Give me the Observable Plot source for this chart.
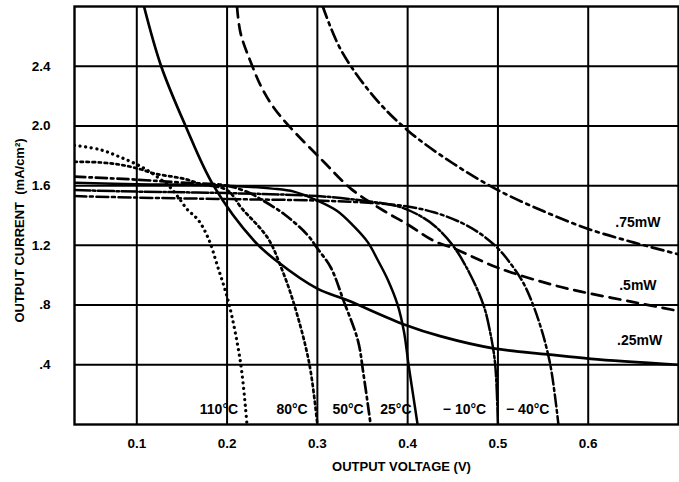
<!DOCTYPE html>
<html>
<head>
<meta charset="utf-8">
<script src="https://cdn.jsdelivr.net/npm/d3@7"></script>
<script src="https://cdn.jsdelivr.net/npm/@observablehq/plot@0.6"></script>
<style>
  html, body { margin: 0; padding: 0; background: #fff; }
  #chart svg { display: block; }
</style>
</head>
<body>
<div id="chart"></div>
<script>
// ---- Data (output voltage V, output current mA/cm²) ----
const xTicks = [0.1, 0.2, 0.3, 0.4, 0.5, 0.6];
const xTickLabels = ["0.1", "0.2", "0.3", "0.4", "0.5", "0.6"];
const yTicks = [0.4, 0.8, 1.2, 1.6, 2.0, 2.4];
const yTickLabels = [".4", ".8", "1.2", "1.6", "2.0", "2.4"];

// Temperature I–V curves
const v110 = [0.031, 0.06, 0.082, 0.104, 0.12, 0.135, 0.145, 0.156, 0.168, 0.179, 0.19, 0.202, 0.215, 0.222];
const i110 = [1.87, 1.84, 1.79, 1.73, 1.67, 1.60, 1.53, 1.44, 1.37, 1.25, 1.05, 0.81, 0.41, 0.0];

const v80 = [0.031, 0.06, 0.082, 0.104, 0.12, 0.14, 0.156, 0.171, 0.2, 0.216, 0.245, 0.26, 0.274, 0.291, 0.30];
const i80 = [1.76, 1.755, 1.74, 1.71, 1.68, 1.66, 1.64, 1.61, 1.57, 1.45, 1.25, 1.05, 0.81, 0.41, 0.0];

const v50 = [0.031, 0.1, 0.15, 0.2, 0.225, 0.237, 0.263, 0.289, 0.30, 0.315, 0.329, 0.345, 0.351, 0.359];
const i50 = [1.66, 1.64, 1.62, 1.60, 1.55, 1.51, 1.41, 1.27, 1.18, 1.05, 0.83, 0.56, 0.34, 0.0];

const v25 = [0.031, 0.1, 0.2, 0.25, 0.274, 0.30, 0.322, 0.34, 0.356, 0.367, 0.378, 0.389, 0.396, 0.401, 0.406, 0.411];
const i25 = [1.62, 1.61, 1.60, 1.58, 1.56, 1.50, 1.43, 1.33, 1.22, 1.10, 0.97, 0.80, 0.62, 0.40, 0.20, 0.0];

const vm10 = [0.031, 0.1, 0.2, 0.3, 0.35, 0.39, 0.41, 0.43, 0.45, 0.468, 0.484, 0.492, 0.497, 0.50];
const im10 = [1.57, 1.56, 1.55, 1.53, 1.50, 1.46, 1.41, 1.33, 1.20, 1.02, 0.80, 0.60, 0.40, 0.0];

const vm40 = [0.031, 0.1, 0.2, 0.3, 0.37, 0.40, 0.43, 0.46, 0.48, 0.50, 0.515, 0.528, 0.539, 0.55, 0.558, 0.563, 0.567];
const im40 = [1.53, 1.52, 1.51, 1.50, 1.48, 1.46, 1.42, 1.35, 1.28, 1.18, 1.07, 0.95, 0.80, 0.60, 0.40, 0.20, 0.0];

// Constant-power curves
const vP25 = [0.108, 0.127, 0.154, 0.185, 0.23, 0.256, 0.30, 0.334, 0.396, 0.437, 0.495, 0.555, 0.603, 0.70];
const iP25 = [2.80, 2.40, 2.00, 1.60, 1.23, 1.09, 0.91, 0.83, 0.67, 0.59, 0.51, 0.47, 0.44, 0.40];

const vP50 = [0.211, 0.215, 0.228, 0.238, 0.252, 0.27, 0.307, 0.337, 0.374, 0.40, 0.429, 0.451, 0.50, 0.558, 0.592, 0.65, 0.70];
const iP50 = [2.80, 2.62, 2.40, 2.26, 2.12, 1.99, 1.76, 1.58, 1.43, 1.34, 1.23, 1.18, 1.05, 0.94, 0.89, 0.82, 0.76];

const vP75 = [0.306, 0.326, 0.362, 0.40, 0.45, 0.50, 0.55, 0.60, 0.65, 0.70];
const iP75 = [2.80, 2.51, 2.20, 1.97, 1.75, 1.57, 1.43, 1.31, 1.22, 1.14];

// Curve labels
const tempLabels = ["110°C", "80°C", "50°C", "25°C", "− 10°C", "− 40°C"];
const tempLabelX = [0.191, 0.272, 0.334, 0.387, 0.463, 0.533];
const tempLabelY = [0.10, 0.10, 0.10, 0.10, 0.10, 0.10];
const powerLabels = [".75mW", ".5mW", ".25mW"];
const powerLabelX = [0.655, 0.655, 0.657];
const powerLabelY = [1.35, 0.93, 0.56];

// ---- Build tables ----
const pts = (vs, is) => vs.map((v, k) => ({v, i: is[k]}));
const series = [
  {data: pts(v110, i110), dash: "0.1,5.5", w: 3.2},
  {data: pts(v80, i80), dash: "2.5,3.5", w: 2.7},
  {data: pts(v50, i50), dash: "11,4,2.5,4", w: 2.7},
  {data: pts(v25, i25), dash: null, w: 2.5},
  {data: pts(vm10, im10), dash: "16,2.5,2.5,2.5", w: 2.5},
  {data: pts(vm40, im40), dash: "12,3.5,3,3.5", w: 2.5},
  {data: pts(vP25, iP25), dash: null, w: 2.7},
  {data: pts(vP50, iP50), dash: "11,7", w: 2.7},
  {data: pts(vP75, iP75), dash: "12,5,3,5", w: 2.7}
];
const tempText = tempLabels.map((t, k) => ({t, x: tempLabelX[k], y: tempLabelY[k]}));
const powerText = powerLabels.map((t, k) => ({t, x: powerLabelX[k], y: powerLabelY[k]}));

const font = "'Liberation Sans', Arial, Helvetica, sans-serif";

const marks = [
  Plot.ruleX(xTicks, {stroke: "#000", strokeWidth: 2}),
  Plot.ruleY(yTicks, {stroke: "#000", strokeWidth: 2}),
  Plot.frame({stroke: "#000", strokeWidth: 2.4}),
  ...series.map(s => Plot.line(s.data, {
    x: "v", y: "i", curve: "catmull-rom", stroke: "#000",
    strokeWidth: s.w, strokeDasharray: s.dash, strokeLinecap: "round", clip: true
  })),
  Plot.text(tempText, {x: "x", y: "y", text: "t", fill: "#000", fontWeight: "bold", fontSize: 14,
    textAnchor: "middle"}),
  Plot.text(powerText, {x: "x", y: "y", text: "t", fill: "#000", fontWeight: "bold", fontSize: 14,
    textAnchor: "middle", stroke: "#fff", strokeWidth: 4, paintOrder: "stroke"}),
  Plot.axisX(xTicks, {tickSize: 0, tickPadding: 14, tickFormat: (d, k) => xTickLabels[k],
    fontWeight: "bold", fontSize: 13.5, label: null}),
  Plot.axisY(yTicks, {tickSize: 0, tickPadding: 24, tickFormat: (d, k) => yTickLabels[k],
    fontWeight: "bold", fontSize: 13.5, label: null}),
  Plot.text(["OUTPUT VOLTAGE (V)"], {frameAnchor: "bottom", textAnchor: "middle", dx: 25, dy: 46,
    fontWeight: "bold", fontSize: 13, fill: "#000"}),
  Plot.text(["OUTPUT CURRENT  (mA/cm²)"], {frameAnchor: "left", textAnchor: "middle", rotate: -90,
    dx: -55, dy: 15, fontWeight: "bold", fontSize: 13, fill: "#000"})
];

const chart = Plot.plot({
  width: 679,
  height: 482,
  marginLeft: 74,
  marginRight: 1,
  marginTop: 6,
  marginBottom: 58,
  style: {fontFamily: font, background: "#fff", color: "#000"},
  x: {domain: [0.031, 0.70]},
  y: {domain: [0, 2.8]},
  marks
});
document.getElementById("chart").appendChild(chart);
</script>
</body>
</html>
